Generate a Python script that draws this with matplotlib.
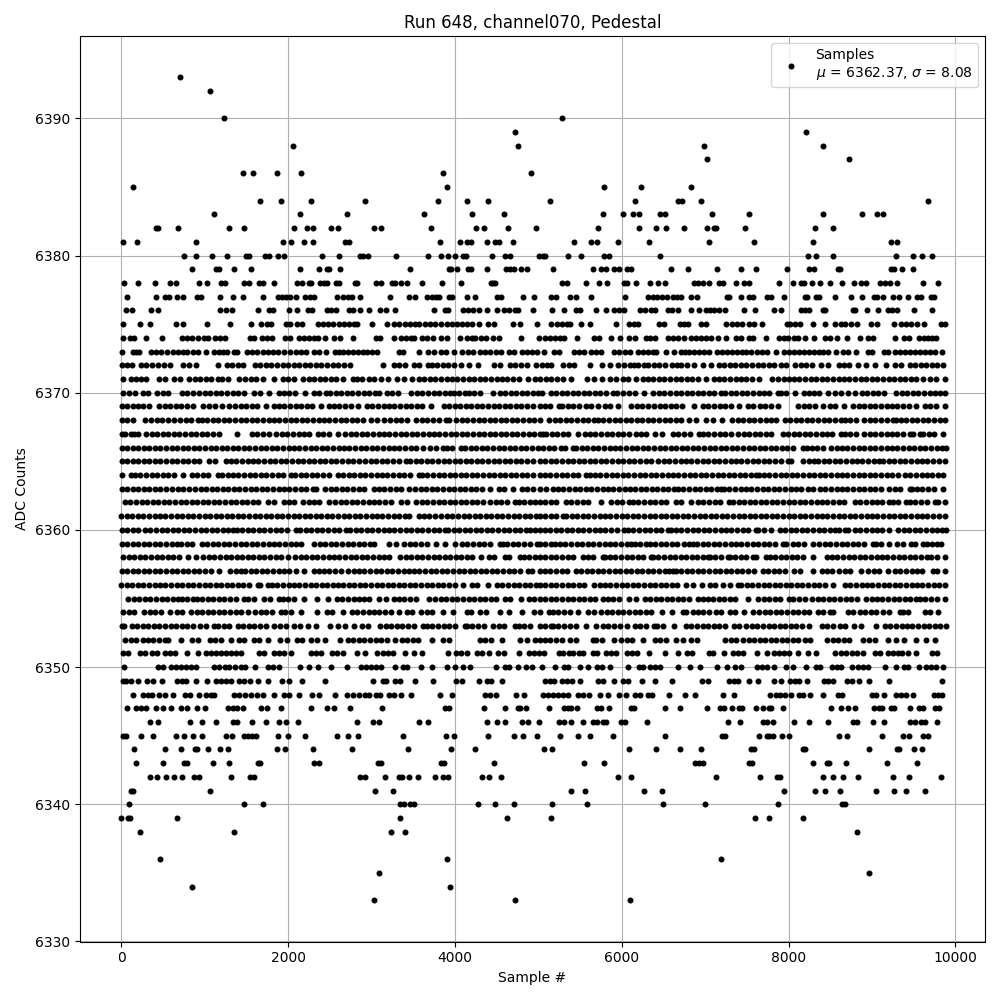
# Pedestal samples of one channel, values read per ADC level

import matplotlib
matplotlib.use('Agg')
import matplotlib.pyplot as plt

# sample numbers seen at each ADC level
x_6393 = [704]
x_6392 = [1064]
x_6390 = [1232, 5281]
x_6389 = [4724, 8209]
x_6388 = [2060, 4760, 6985, 8413]
x_6387 = [7021, 8725]
x_6386 = [1460, 1580, 1868, 2156, 3860, 4916]
x_6385 = [140, 3908, 5785, 6229, 6829]
x_6384 = [1664, 1916, 2276, 2924, 3800, 4148, 4400, 5137, 6157, 6673, 6721, 6949, 9673]
x_6383 = [1112, 2144, 2708, 3632, 4208, 4592, 5773, 6013, 6133, 6205, 6457, 6517, 7081, 7525, 8413, 8881, 9061, 9133]
x_6382 = [415, 440, 680, 1292, 1472, 2072, 2228, 2300, 2516, 2600, 3032, 3116, 3716, 4256, 4352, 4640, 4976, 5713, 6205, 6409, 6529, 6745, 7021, 7105, 7129, 7477, 8317, 8533]
x_6381 = [20, 188, 896, 1940, 2036, 2192, 2300, 2684, 2732, 3824, 4064, 4148, 4188, 4388, 4484, 4524, 4700, 5425, 5637, 5701, 5953, 6325, 7045, 7585, 8293, 9229, 9301]
x_6380 = [752, 896, 1088, 1268, 1496, 1532, 1724, 1772, 1880, 1952, 2408, 2612, 2864, 2900, 2960, 3296, 3680, 3836, 3920, 4004, 4100, 4136, 4448, 4604, 4664, 5012, 5053, 5085, 5353, 5509, 5785, 5845, 6457, 8233, 8329, 8533, 9289, 9493, 9601, 9721]
x_6379 = [848, 1136, 1172, 1352, 1556, 2144, 2372, 2468, 2492, 2624, 3464, 3932, 3956, 4028, 4160, 4196, 4388, 4616, 4664, 4712, 4796, 4868, 5173, 5653, 5749, 5809, 5905, 5965, 6061, 6109, 6589, 6793, 7141, 7429, 7609, 7981, 8245, 8305, 8593, 8613, 9229, 9265, 9361, 9493]
x_6378 = [32, 200, 404, 584, 656, 932, 1028, 1196, 1244, 1472, 1532, 1652, 1700, 1832, 2108, 2168, 2252, 2276, 2384, 2432, 2468, 2576, 2612, 2804, 2828, 3056, 3116, 3248, 3284, 3356, 3428, 3608, 3848, 4076, 4436, 4460, 4484, 5281, 5341, 5569, 5725, 5821, 6025, 6061, 6169, 6337, 6433, 6517, 6865, 6913, 6973, 7045, 7165, 7213, 7369, 7465, 7525, 7885, 8053, 8149, 8185, 8281, 8377, 8497, 8641, 8785, 8869, 8929, 9097, 9157, 9217, 9301, 9613, 9793]
x_6377 = [68, 416, 524, 572, 668, 740, 908, 956, 1184, 1340, 1460, 1700, 1880, 1928, 1976, 2024, 2096, 2204, 2264, 2312, 2588, 2660, 2720, 2768, 2864, 3224, 3452, 3524, 3668, 3728, 3776, 3812, 3932, 3968, 4148, 4244, 4508, 4556, 4820, 4952, 5149, 5209, 5377, 5449, 5629, 6037, 6313, 6373, 6421, 6481, 6541, 6613, 6661, 6709, 6829, 6901, 7261, 7285, 7429, 7525, 7573, 7741, 7789, 7945, 8197, 8221, 8329, 8365, 8557, 8749, 8881, 9025, 9061, 9133, 9253, 9325, 9429, 9541, 9589, 9709, 9745]
x_6376 = [56, 128, 356, 440, 1184, 1256, 1328, 1640, 1772, 1820, 2012, 2108, 2240, 2288, 2468, 2516, 2576, 2732, 2780, 2864, 2972, 3104, 3176, 3284, 3752, 3884, 3920, 4100, 4160, 4220, 4292, 4388, 4508, 4592, 4652, 4724, 4760, 4940, 5161, 5305, 5449, 5497, 5689, 5809, 5905, 5965, 6025, 6217, 6277, 6349, 6397, 6553, 6601, 6673, 6829, 6925, 7009, 7057, 7105, 7165, 7237, 7465, 7597, 7825, 7909, 8149, 8197, 8245, 8413, 8437, 8773, 8797, 8941, 9073, 9193, 9241, 9301, 9505, 9721]
x_6375 = [20, 224, 344, 656, 740, 1028, 1304, 1556, 1676, 1748, 1796, 1976, 2024, 2108, 2168, 2360, 2420, 2480, 2540, 2612, 2672, 2732, 2792, 2828, 3008, 3188, 3272, 3332, 3404, 3464, 3524, 3572, 3644, 3704, 3764, 3836, 3908, 3968, 4028, 4088, 4148, 4208, 4292, 4400, 4472, 4700, 4784, 4988, 5149, 5221, 5281, 5341, 5377, 5509, 5625, 5929, 6085, 6145, 6193, 6445, 6505, 6697, 6745, 6793, 6949, 7009, 7249, 7321, 7381, 7441, 7525, 7585, 7681, 7981, 8017, 8077, 8137, 8293, 8437, 8557, 8629, 8677, 8749, 8821, 8989, 9061, 9265, 9349, 9409, 9469, 9541, 9625, 9829, 9877]
x_6374 = [20, 104, 152, 296, 488, 728, 788, 848, 920, 992, 1040, 1124, 1184, 1244, 1544, 1592, 1688, 1748, 1808, 1964, 2024, 2132, 2192, 2252, 2312, 2360, 2444, 2552, 2624, 2780, 3056, 3104, 3272, 3356, 3416, 3476, 3512, 3608, 3668, 3740, 3836, 3908, 4064, 4148, 4208, 4244, 4316, 4376, 4460, 4532, 4796, 5012, 5085, 5145, 5205, 5265, 5313, 5469, 5673, 5725, 5869, 5977, 6085, 6157, 6289, 6337, 6397, 6553, 6613, 6673, 6745, 6829, 6889, 6949, 7009, 7069, 7153, 7249, 7369, 7429, 7525, 7573, 7729, 7885, 7945, 7993, 8065, 8113, 8197, 8305, 8437, 8497, 8581, 8701, 8857, 8953, 9013, 9277, 9385, 9445, 9565, 9625, 9673, 9721, 9769]
x_6373 = [8, 140, 176, 212, 356, 416, 476, 548, 620, 680, 740, 788, 860, 920, 1016, 1112, 1172, 1220, 1268, 1352, 1388, 1508, 1568, 1628, 1700, 1760, 1820, 1880, 1952, 2024, 2096, 2156, 2216, 2312, 2372, 2460, 2564, 2612, 2660, 2720, 2780, 2840, 2900, 2948, 3008, 3068, 3332, 3380, 3572, 3680, 3752, 3836, 3896, 3992, 4088, 4160, 4220, 4304, 4364, 4424, 4496, 4556, 4652, 4712, 4808, 4868, 4928, 4988, 5073, 5193, 5253, 5433, 5493, 5553, 5637, 5697, 5757, 5905, 5965, 6037, 6097, 6193, 6253, 6313, 6373, 6409, 6529, 6625, 6709, 6757, 6805, 6865, 6925, 6985, 7045, 7141, 7201, 7261, 7321, 7381, 7441, 7489, 7549, 7621, 7681, 7741, 7849, 7945, 8005, 8065, 8125, 8185, 8245, 8305, 8365, 8413, 8473, 8569, 8653, 8713, 8809, 8953, 9001, 9145, 9193, 9277, 9337, 9397, 9457, 9517, 9577, 9637, 9697, 9757, 9841]
x_6372 = [8, 70, 130, 232, 300, 372, 440, 510, 580, 740, 810, 890, 1160, 1268, 1330, 1395, 1455, 1600, 1668, 1733, 1800, 1870, 1935, 2000, 2070, 2135, 2200, 2268, 2335, 2400, 2470, 2535, 2600, 2670, 2740, 3140, 3268, 3335, 3400, 3515, 3565, 3675, 3720, 3788, 3855, 3920, 3990, 4075, 4165, 4275, 4468, 4535, 4655, 4720, 4790, 4860, 4975, 5040, 5100, 5150, 5300, 5365, 5430, 5625, 5761, 5857, 5960, 6030, 6095, 6150, 6200, 6270, 6320, 6385, 6450, 6513, 6600, 6660, 6710, 6780, 6870, 6973, 7073, 7160, 7230, 7295, 7360, 7430, 7495, 7560, 7630, 7695, 7760, 7830, 7910, 7973, 8080, 8145, 8210, 8280, 8390, 8473, 8600, 8665, 8730, 8830, 8933, 9033, 9173, 9280, 9345, 9450, 9520, 9585, 9650, 9720, 9785, 9850]
x_6371 = [25, 115, 175, 240, 300, 455, 525, 635, 700, 815, 880, 945, 1010, 1080, 1155, 1205, 1278, 1415, 1480, 1550, 1615, 1695, 1830, 1935, 2000, 2070, 2175, 2245, 2310, 2380, 2445, 2515, 2575, 2655, 2775, 2825, 2890, 2975, 3025, 3115, 3200, 3305, 3395, 3480, 3565, 3630, 3700, 3765, 3830, 3900, 3965, 4030, 4100, 4165, 4230, 4300, 4365, 4430, 4500, 4565, 4630, 4700, 4765, 4875, 4960, 5020, 5090, 5155, 5225, 5290, 5390, 5580, 5670, 5760, 5860, 5930, 6010, 6080, 6170, 6255, 6310, 6380, 6445, 6510, 6580, 6645, 6710, 6780, 6845, 6910, 7010, 7100, 7165, 7230, 7300, 7365, 7430, 7490, 7560, 7650, 7805, 7870, 7940, 8005, 8070, 8130, 8200, 8265, 8330, 8400, 8465, 8530, 8600, 8665, 8730, 8800, 8865, 8930, 9000, 9065, 9130, 9200, 9265, 9330, 9400, 9465, 9530, 9610, 9700, 9765, 9870]
x_6370 = [25, 90, 160, 255, 325, 425, 505, 555, 725, 785, 865, 930, 1000, 1065, 1130, 1200, 1265, 1335, 1405, 1470, 1595, 1665, 1775, 1885, 1950, 2015, 2085, 2205, 2305, 2370, 2455, 2505, 2570, 2640, 2705, 2770, 2840, 2905, 2970, 3040, 3095, 3185, 3250, 3315, 3475, 3545, 3610, 3675, 3745, 3810, 3875, 3935, 3985, 4050, 4115, 4165, 4230, 4295, 4455, 4535, 4600, 4670, 4735, 4800, 4870, 4935, 5000, 5045, 5155, 5210, 5280, 5345, 5410, 5480, 5545, 5610, 5680, 5745, 5810, 5890, 5940, 6020, 6090, 6160, 6270, 6380, 6445, 6510, 6580, 6645, 6710, 6780, 6845, 6910, 6980, 7045, 7110, 7190, 7240, 7305, 7370, 7440, 7505, 7570, 7640, 7705, 7770, 7870, 7913, 7973, 8075, 8190, 8240, 8305, 8370, 8470, 8560, 8625, 8710, 8793, 8880, 8945, 9010, 9075, 9150, 9290, 9355, 9420, 9490, 9555, 9620, 9690, 9755, 9820, 9870]
x_6369 = [5, 70, 135, 200, 265, 335, 455, 520, 585, 655, 720, 790, 855, 985, 1055, 1120, 1205, 1295, 1365, 1430, 1495, 1565, 1630, 1735, 1825, 1890, 1955, 2025, 2090, 2155, 2225, 2290, 2395, 2485, 2550, 2615, 2685, 2750, 2835, 2945, 3010, 3075, 3145, 3210, 3275, 3345, 3410, 3475, 3545, 3610, 3715, 3865, 3930, 3995, 4065, 4130, 4195, 4265, 4330, 4395, 4465, 4530, 4595, 4665, 4730, 4795, 4865, 4930, 5015, 5080, 5145, 5250, 5285, 5355, 5420, 5485, 5570, 5635, 5710, 5795, 5860, 5950, 6115, 6180, 6245, 6315, 6390, 6455, 6520, 6590, 6655, 6720, 6870, 6975, 7040, 7105, 7175, 7240, 7305, 7410, 7515, 7570, 7655, 7720, 7790, 7870, 8115, 8180, 8245, 8315, 8410, 8495, 8560, 8670, 8775, 8840, 8905, 8975, 9040, 9105, 9175, 9240, 9305, 9375, 9440, 9530, 9635, 9700, 9765, 9870]
x_6368 = [5, 70, 138, 285, 355, 425, 490, 555, 635, 705, 770, 835, 915, 965, 1030, 1095, 1165, 1230, 1295, 1365, 1430, 1495, 1565, 1630, 1695, 1765, 1830, 1895, 1965, 2030, 2095, 2165, 2230, 2295, 2365, 2430, 2495, 2565, 2630, 2695, 2765, 2830, 2895, 2995, 3065, 3155, 3225, 3290, 3355, 3425, 3535, 3605, 3670, 3735, 3805, 3895, 3925, 4015, 4085, 4150, 4215, 4285, 4350, 4415, 4485, 4550, 4615, 4685, 4750, 4815, 4885, 4950, 5015, 5130, 5195, 5260, 5330, 5395, 5460, 5530, 5595, 5670, 5715, 5780, 5845, 5915, 5980, 6045, 6115, 6180, 6245, 6315, 6380, 6445, 6515, 6580, 6645, 6715, 6810, 6885, 7010, 7093, 7205, 7325, 7390, 7455, 7525, 7590, 7655, 7725, 7790, 7850, 7955, 8020, 8085, 8155, 8220, 8285, 8355, 8420, 8485, 8555, 8630, 8675, 8740, 8805, 8910, 8975, 9040, 9110, 9175, 9250, 9285, 9345, 9410, 9475, 9545, 9610, 9675, 9745, 9810, 9870]
x_6367 = [5, 48, 122, 158, 205, 295, 365, 430, 498, 565, 630, 695, 765, 830, 895, 965, 1030, 1095, 1175, 1390, 1565, 1630, 1695, 1765, 1855, 1925, 1990, 2055, 2125, 2190, 2255, 2355, 2420, 2485, 2595, 2685, 2750, 2815, 2885, 2950, 3015, 3085, 3150, 3215, 3285, 3350, 3415, 3485, 3550, 3615, 3685, 3750, 3815, 3885, 3950, 4015, 4085, 4150, 4215, 4285, 4350, 4415, 4485, 4550, 4615, 4685, 4750, 4815, 4885, 4950, 5015, 5050, 5095, 5160, 5225, 5295, 5360, 5470, 5555, 5620, 5685, 5755, 5820, 5885, 5955, 6020, 6090, 6175, 6230, 6293, 6393, 6481, 6615, 6680, 6745, 6815, 6930, 6975, 7040, 7105, 7175, 7240, 7310, 7395, 7460, 7525, 7595, 7660, 7725, 7795, 7930, 7995, 8060, 8125, 8195, 8260, 8325, 8395, 8460, 8525, 8630, 8675, 8740, 8805, 8910, 8975, 9040, 9105, 9175, 9240, 9305, 9375, 9450, 9495, 9570, 9615, 9680, 9745, 9850]
x_6366 = [5, 70, 135, 205, 270, 335, 405, 470, 535, 605, 670, 735, 805, 870, 935, 1005, 1070, 1135, 1205, 1270, 1335, 1405, 1470, 1535, 1605, 1670, 1735, 1805, 1870, 1935, 2005, 2070, 2135, 2205, 2270, 2335, 2405, 2470, 2535, 2605, 2670, 2735, 2805, 2870, 2935, 3005, 3070, 3135, 3205, 3270, 3335, 3405, 3470, 3535, 3615, 3705, 3770, 3855, 3900, 3965, 4075, 4125, 4190, 4255, 4325, 4390, 4455, 4525, 4590, 4655, 4725, 4790, 4855, 4925, 4990, 5055, 5125, 5190, 5270, 5315, 5410, 5455, 5520, 5585, 5655, 5720, 5785, 5855, 5920, 5985, 6055, 6120, 6185, 6255, 6320, 6385, 6455, 6520, 6585, 6655, 6720, 6785, 6855, 6920, 6985, 7055, 7120, 7185, 7255, 7320, 7385, 7455, 7520, 7585, 7655, 7720, 7785, 7855, 7920, 7985, 8055, 8170, 8215, 8280, 8345, 8415, 8510, 8575, 8640, 8705, 8775, 8840, 8905, 8975, 9040, 9105, 9175, 9240, 9305, 9375, 9440, 9505, 9575, 9640, 9705, 9775, 9840, 9885]
x_6365 = [5, 70, 135, 205, 270, 335, 405, 470, 535, 605, 670, 735, 805, 870, 935, 1055, 1125, 1255, 1315, 1380, 1445, 1515, 1580, 1645, 1715, 1780, 1845, 1915, 1980, 2045, 2115, 2180, 2245, 2315, 2380, 2445, 2515, 2580, 2645, 2715, 2780, 2855, 2925, 2990, 3055, 3125, 3190, 3255, 3325, 3415, 3465, 3530, 3595, 3665, 3730, 3795, 3865, 3930, 3995, 4065, 4130, 4195, 4265, 4330, 4395, 4465, 4530, 4595, 4665, 4730, 4795, 4865, 4930, 5015, 5085, 5150, 5215, 5285, 5350, 5415, 5485, 5550, 5615, 5685, 5750, 5815, 5885, 5950, 6015, 6085, 6150, 6215, 6285, 6350, 6435, 6505, 6570, 6635, 6705, 6770, 6835, 6905, 6970, 7035, 7105, 7170, 7235, 7305, 7370, 7435, 7505, 7570, 7635, 7705, 7770, 7835, 7905, 7990, 8033, 8175, 8240, 8310, 8355, 8420, 8485, 8555, 8620, 8685, 8755, 8820, 8885, 8955, 9020, 9090, 9135, 9200, 9265, 9335, 9400, 9465, 9535, 9600, 9665, 9735, 9800, 9870]
x_6364 = [5, 118, 165, 230, 295, 365, 430, 495, 565, 630, 735, 845, 910, 975, 1045, 1155, 1205, 1275, 1340, 1405, 1475, 1540, 1605, 1675, 1740, 1805, 1875, 1940, 2035, 2085, 2150, 2215, 2285, 2350, 2415, 2485, 2595, 2660, 2725, 2790, 2860, 2925, 2990, 3060, 3125, 3190, 3260, 3325, 3390, 3460, 3575, 3605, 3670, 3735, 3805, 3870, 3935, 4005, 4070, 4135, 4205, 4270, 4335, 4405, 4470, 4535, 4605, 4670, 4735, 4805, 4870, 4935, 5015, 5080, 5145, 5215, 5280, 5345, 5415, 5480, 5570, 5615, 5680, 5745, 5815, 5880, 5945, 6015, 6080, 6145, 6215, 6280, 6350, 6415, 6480, 6550, 6615, 6680, 6750, 6815, 6880, 6950, 7015, 7080, 7150, 7215, 7280, 7350, 7415, 7480, 7550, 7610, 7640, 7705, 7770, 7840, 7910, 7975, 8040, 8105, 8175, 8240, 8305, 8375, 8440, 8505, 8575, 8640, 8705, 8775, 8840, 8905, 8975, 9040, 9105, 9175, 9240, 9310, 9395, 9460, 9525, 9595, 9660, 9725, 9795, 9850]
x_6363 = [5, 70, 135, 205, 270, 335, 405, 470, 535, 605, 675, 745, 815, 885, 950, 1015, 1085, 1150, 1215, 1285, 1350, 1415, 1485, 1550, 1615, 1685, 1750, 1815, 1885, 1950, 2015, 2085, 2150, 2215, 2295, 2340, 2445, 2510, 2575, 2645, 2710, 2775, 2845, 2915, 3025, 3090, 3155, 3225, 3290, 3355, 3455, 3525, 3590, 3655, 3725, 3790, 3855, 3925, 3990, 4055, 4125, 4190, 4255, 4325, 4415, 4525, 4590, 4695, 4805, 4870, 4935, 5015, 5090, 5170, 5235, 5300, 5370, 5435, 5500, 5570, 5635, 5700, 5770, 5835, 5900, 5970, 6033, 6095, 6160, 6225, 6295, 6360, 6425, 6495, 6560, 6630, 6675, 6740, 6805, 6875, 6940, 7005, 7075, 7140, 7190, 7225, 7290, 7355, 7425, 7490, 7555, 7625, 7690, 7755, 7825, 7890, 7955, 8025, 8090, 8155, 8230, 8293, 8375, 8440, 8505, 8575, 8640, 8705, 8775, 8840, 8905, 8975, 9040, 9105, 9210, 9275, 9340, 9450, 9475, 9540, 9605, 9675, 9740, 9850]
x_6362 = [45, 110, 175, 245, 310, 375, 445, 510, 575, 645, 710, 775, 845, 910, 975, 1045, 1110, 1175, 1245, 1310, 1375, 1445, 1510, 1575, 1645, 1755, 1835, 1945, 2010, 2075, 2175, 2255, 2305, 2370, 2495, 2565, 2630, 2695, 2765, 2830, 2895, 2965, 3030, 3095, 3165, 3230, 3355, 3425, 3535, 3605, 3670, 3735, 3805, 3870, 3935, 4005, 4070, 4135, 4205, 4270, 4335, 4425, 4490, 4555, 4625, 4715, 4765, 4830, 4895, 4965, 5015, 5085, 5150, 5215, 5330, 5395, 5460, 5530, 5595, 5750, 5875, 5940, 6005, 6090, 6135, 6200, 6265, 6335, 6400, 6465, 6535, 6650, 6713, 6833, 6915, 6980, 7045, 7115, 7180, 7290, 7335, 7400, 7465, 7535, 7600, 7665, 7735, 7800, 7865, 7935, 8000, 8065, 8135, 8200, 8265, 8335, 8400, 8465, 8535, 8600, 8670, 8795, 8860, 8925, 8995, 9060, 9125, 9210, 9250, 9315, 9410, 9455, 9520, 9585, 9655, 9750, 9795, 9870]
x_6361 = [0, 65, 130, 200, 265, 330, 400, 465, 530, 600, 665, 730, 800, 865, 930, 1000, 1065, 1130, 1200, 1265, 1330, 1400, 1465, 1530, 1600, 1665, 1730, 1800, 1865, 1930, 2000, 2065, 2130, 2200, 2265, 2330, 2400, 2465, 2530, 2600, 2665, 2730, 2800, 2865, 2930, 3000, 3065, 3130, 3200, 3265, 3330, 3400, 3455, 3565, 3630, 3695, 3765, 3835, 3905, 3970, 4035, 4105, 4170, 4235, 4305, 4370, 4435, 4505, 4570, 4635, 4705, 4770, 4835, 4905, 4970, 5015, 5085, 5150, 5215, 5290, 5335, 5400, 5465, 5535, 5600, 5665, 5735, 5800, 5865, 5935, 6000, 6065, 6135, 6200, 6265, 6335, 6400, 6465, 6535, 6600, 6665, 6735, 6800, 6865, 6935, 7000, 7065, 7135, 7200, 7265, 7335, 7400, 7465, 7535, 7600, 7665, 7735, 7800, 7865, 7935, 8000, 8065, 8135, 8200, 8265, 8335, 8400, 8465, 8535, 8600, 8665, 8735, 8800, 8865, 8935, 9000, 9065, 9135, 9200, 9265, 9335, 9400, 9465, 9535, 9600, 9665, 9735, 9800, 9870]
x_6360 = [5, 70, 135, 195, 285, 350, 415, 485, 550, 615, 685, 750, 815, 885, 950, 1015, 1085, 1150, 1215, 1285, 1335, 1385, 1450, 1515, 1585, 1650, 1715, 1785, 1850, 1915, 1985, 2095, 2145, 2210, 2275, 2345, 2410, 2475, 2545, 2610, 2695, 2745, 2810, 2875, 2945, 3010, 3075, 3145, 3210, 3275, 3345, 3410, 3475, 3545, 3610, 3675, 3745, 3815, 3885, 3920, 3985, 4050, 4115, 4185, 4250, 4315, 4385, 4450, 4515, 4585, 4650, 4715, 4785, 4850, 4895, 4965, 5015, 5080, 5145, 5210, 5275, 5340, 5405, 5475, 5540, 5605, 5675, 5740, 5805, 5875, 5940, 6030, 6075, 6140, 6205, 6275, 6340, 6405, 6475, 6550, 6585, 6650, 6715, 6785, 6850, 6915, 6985, 7050, 7115, 7185, 7250, 7315, 7385, 7450, 7515, 7610, 7635, 7700, 7790, 7895, 7960, 8025, 8095, 8160, 8225, 8295, 8360, 8425, 8495, 8560, 8610, 8675, 8710, 8795, 8860, 8925, 8995, 9060, 9125, 9210, 9315, 9380, 9445, 9515, 9580, 9645, 9715, 9780, 9845, 9890]
x_6359 = [5, 70, 135, 205, 270, 335, 405, 470, 535, 605, 670, 715, 785, 845, 965, 1030, 1095, 1165, 1230, 1295, 1365, 1430, 1495, 1565, 1630, 1695, 1765, 1830, 1895, 1965, 2030, 2095, 2155, 2315, 2380, 2445, 2515, 2580, 2645, 2715, 2780, 2845, 2915, 2980, 3035, 3205, 3295, 3395, 3460, 3525, 3595, 3660, 3775, 3880, 4000, 4085, 4150, 4215, 4285, 4350, 4415, 4535, 4580, 4625, 4695, 4760, 4825, 4895, 4980, 5015, 5080, 5150, 5195, 5260, 5325, 5395, 5460, 5525, 5595, 5660, 5725, 5795, 5860, 5925, 5995, 6060, 6110, 6155, 6220, 6290, 6335, 6400, 6465, 6535, 6600, 6665, 6750, 6801, 6853, 6905, 6970, 7035, 7105, 7170, 7235, 7305, 7370, 7435, 7505, 7570, 7635, 7705, 7770, 7835, 7930, 7975, 8050, 8115, 8180, 8290, 8370, 8435, 8500, 8570, 8635, 8700, 8770, 8835, 8900, 9010, 9045, 9110, 9201, 9305, 9370, 9470, 9515, 9610, 9655, 9720, 9785, 9830]
x_6358 = [25, 90, 155, 225, 290, 355, 425, 490, 555, 625, 690, 795, 890, 985, 1050, 1115, 1185, 1250, 1315, 1385, 1450, 1515, 1585, 1650, 1715, 1785, 1850, 1915, 1995, 2085, 2150, 2215, 2285, 2350, 2415, 2485, 2550, 2615, 2685, 2750, 2815, 2885, 2950, 3015, 3085, 3150, 3215, 3345, 3410, 3475, 3545, 3610, 3675, 3745, 3810, 3875, 3945, 4010, 4075, 4145, 4210, 4315, 4405, 4470, 4595, 4645, 4775, 4825, 4890, 4955, 5015, 5085, 5150, 5215, 5285, 5350, 5415, 5530, 5595, 5660, 5770, 5795, 5860, 5925, 5995, 6060, 6125, 6195, 6260, 6350, 6375, 6440, 6505, 6575, 6640, 6705, 6775, 6840, 6905, 6975, 7030, 7055, 7120, 7185, 7270, 7295, 7360, 7425, 7495, 7570, 7615, 7730, 7775, 7840, 7905, 7975, 8040, 8105, 8175, 8290, 8455, 8520, 8585, 8655, 8720, 8785, 8855, 8920, 8985, 9055, 9120, 9185, 9255, 9320, 9385, 9455, 9520, 9585, 9655, 9710, 9775, 9870]
x_6357 = [5, 70, 135, 205, 270, 335, 405, 470, 535, 605, 670, 735, 805, 870, 935, 1005, 1070, 1175, 1305, 1370, 1435, 1485, 1550, 1615, 1685, 1750, 1815, 1885, 1950, 2015, 2095, 2195, 2315, 2365, 2430, 2495, 2565, 2630, 2715, 2785, 2850, 2915, 2985, 3050, 3115, 3185, 3250, 3315, 3395, 3445, 3510, 3575, 3645, 3710, 3775, 3845, 3910, 3975, 4045, 4110, 4175, 4245, 4310, 4375, 4445, 4510, 4575, 4645, 4710, 4775, 4875, 4925, 5015, 5080, 5145, 5215, 5280, 5345, 5450, 5515, 5580, 5645, 5715, 5780, 5845, 5915, 5980, 6045, 6115, 6180, 6245, 6315, 6380, 6445, 6515, 6570, 6613, 6650, 6715, 6780, 6845, 6915, 6980, 7045, 7115, 7180, 7245, 7315, 7380, 7445, 7515, 7580, 7690, 7755, 7820, 7890, 7955, 8070, 8135, 8290, 8395, 8460, 8525, 8610, 8675, 8740, 8870, 8955, 9020, 9085, 9190, 9275, 9340, 9405, 9475, 9540, 9605, 9730, 9775, 9870]
x_6356 = [0, 65, 130, 200, 265, 330, 400, 465, 530, 600, 665, 730, 800, 865, 930, 1000, 1065, 1130, 1200, 1265, 1330, 1400, 1465, 1530, 1635, 1665, 1755, 1805, 1870, 1935, 2005, 2070, 2135, 2205, 2270, 2335, 2405, 2470, 2535, 2595, 2660, 2725, 2795, 2860, 2925, 2995, 3060, 3125, 3195, 3260, 3325, 3395, 3460, 3525, 3595, 3660, 3725, 3795, 3860, 3925, 3995, 4095, 4205, 4270, 4395, 4505, 4570, 4635, 4705, 4770, 4835, 4905, 4970, 5015, 5085, 5150, 5215, 5285, 5350, 5415, 5485, 5550, 5670, 5735, 5800, 5865, 5935, 6000, 6065, 6135, 6200, 6265, 6335, 6400, 6465, 6535, 6600, 6665, 6770, 6853, 6961, 7055, 7120, 7210, 7295, 7390, 7435, 7500, 7565, 7635, 7700, 7765, 7835, 7900, 7965, 8035, 8100, 8165, 8235, 8300, 8365, 8435, 8530, 8675, 8740, 8805, 8875, 8940, 9005, 9075, 9140, 9205, 9275, 9340, 9405, 9475, 9540, 9605, 9675, 9740, 9805, 9880]
x_6355 = [85, 150, 215, 285, 350, 415, 485, 550, 615, 675, 725, 790, 855, 905, 970, 1035, 1105, 1170, 1235, 1305, 1370, 1475, 1525, 1590, 1715, 1785, 1895, 1935, 2000, 2065, 2195, 2345, 2475, 2585, 2650, 2715, 2785, 2855, 2905, 2970, 3095, 3170, 3265, 3330, 3395, 3465, 3530, 3695, 3765, 3830, 3895, 3965, 4030, 4095, 4165, 4230, 4295, 4365, 4430, 4495, 4595, 4665, 4795, 4885, 4950, 5015, 5085, 5150, 5215, 5285, 5350, 5415, 5485, 5550, 5615, 5685, 5770, 5835, 5900, 5970, 6090, 6173, 6275, 6340, 6405, 6475, 6540, 6605, 6675, 6740, 6805, 6910, 6975, 7030, 7095, 7160, 7230, 7295, 7360, 7510, 7635, 7700, 7765, 7835, 7900, 8010, 8055, 8130, 8201, 8285, 8350, 8415, 8485, 8550, 8615, 8685, 8750, 8815, 8930, 8995, 9060, 9125, 9195, 9260, 9325, 9395, 9460, 9530, 9575, 9640, 9705, 9775, 9870]
x_6354 = [25, 90, 155, 275, 345, 410, 475, 585, 665, 730, 835, 905, 970, 1035, 1105, 1170, 1235, 1305, 1370, 1435, 1515, 1605, 1670, 1735, 1805, 1915, 1965, 2030, 2155, 2350, 2465, 2530, 2655, 2765, 2830, 2895, 2965, 3030, 3095, 3165, 3230, 3335, 3425, 3490, 3595, 3665, 3730, 3855, 3980, 4145, 4195, 4305, 4370, 4535, 4650, 4800, 4945, 5015, 5130, 5175, 5240, 5305, 5375, 5470, 5595, 5670, 5755, 5820, 5885, 5955, 6020, 6085, 6155, 6220, 6285, 6350, 6481, 6605, 6730, 6775, 6850, 6915, 6980, 7050, 7130, 7193, 7295, 7360, 7470, 7575, 7650, 7715, 7780, 7850, 7915, 7980, 8050, 8115, 8180, 8250, 8350, 8413, 8495, 8530, 8715, 8770, 8855, 8920, 8985, 9050, 9135, 9200, 9330, 9375, 9430, 9635, 9700, 9790]
x_6353 = [5, 38, 125, 190, 255, 325, 390, 455, 525, 590, 655, 725, 790, 855, 945, 1010, 1115, 1165, 1230, 1295, 1395, 1465, 1530, 1595, 1665, 1730, 1835, 1905, 1970, 2075, 2140, 2240, 2340, 2505, 2595, 2685, 2795, 2885, 2955, 3105, 3170, 3235, 3305, 3370, 3435, 3505, 3615, 3665, 3730, 3795, 3865, 3930, 3995, 4115, 4145, 4210, 4275, 4345, 4455, 4525, 4590, 4715, 4765, 4830, 4895, 5015, 5085, 5150, 5175, 5240, 5305, 5375, 5450, 5573, 5693, 5775, 5840, 5905, 5975, 6060, 6155, 6220, 6285, 6390, 6425, 6490, 6630, 6770, 6835, 6900, 6970, 7035, 7100, 7170, 7235, 7350, 7405, 7495, 7560, 7625, 7695, 7760, 7825, 7895, 7960, 8025, 8095, 8160, 8250, 8395, 8460, 8530, 8615, 8680, 8790, 8873, 9053, 9155, 9220, 9285, 9355, 9420, 9485, 9555, 9620, 9685, 9755, 9820, 9890]
x_6352 = [45, 115, 180, 260, 325, 385, 450, 520, 560, 710, 850, 920, 1060, 1120, 1190, 1320, 1410, 1475, 1590, 1650, 1760, 1900, 1990, 2110, 2170, 2270, 2350, 2440, 2620, 2715, 2780, 2850, 2915, 2985, 3050, 3115, 3190, 3280, 3360, 3425, 3495, 3560, 3720, 3860, 3930, 4300, 4365, 4430, 4560, 4780, 4860, 4960, 5015, 5085, 5135, 5215, 5285, 5380, 5450, 5650, 5695, 5760, 5905, 5995, 6060, 6125, 6260, 6393, 6460, 6530, 6650, 6735, 6830, 6905, 7240, 7305, 7373, 7453, 7520, 7585, 7655, 7720, 7785, 7855, 7920, 7985, 8050, 8115, 8193, 8253, 8455, 8530, 8595, 8665, 8730, 8895, 8965, 9033, 9193, 9293, 9385, 9533, 9653, 9760]
x_6351 = [20, 80, 224, 284, 368, 428, 524, 584, 644, 788, 920, 1016, 1076, 1136, 1196, 1256, 1316, 1376, 1436, 1652, 1712, 1832, 1892, 1952, 2040, 2276, 2336, 2396, 2528, 2588, 2660, 2828, 2924, 3068, 3140, 3200, 3260, 3404, 3512, 3608, 3920, 4016, 4076, 4148, 4268, 4328, 4412, 4520, 4592, 4764, 4892, 4952, 5012, 5065, 5245, 5293, 5365, 5413, 5485, 5533, 5653, 5701, 5809, 5869, 5929, 6061, 6121, 6181, 6325, 6517, 6673, 6781, 6841, 7045, 7093, 7225, 7333, 7393, 7453, 7621, 7741, 7825, 7885, 7945, 8005, 8113, 8233, 8329, 8557, 8629, 8689, 8761, 8821, 8893, 9037, 9097, 9193, 9253, 9313, 9361, 9433, 9529, 9721, 9781]
x_6350 = [32, 440, 500, 596, 656, 716, 776, 836, 896, 1112, 1172, 1244, 1292, 1364, 1436, 1484, 1604, 1760, 1820, 1892, 2144, 2252, 2360, 2516, 2708, 2876, 2936, 2996, 3056, 3116, 3284, 3380, 3428, 3596, 3728, 3908, 4004, 4100, 4184, 4496, 4604, 4652, 4760, 4856, 4928, 5041, 5197, 5305, 5353, 5497, 5593, 5701, 5761, 5857, 6073, 6205, 6253, 6337, 6397, 6457, 6673, 6817, 6937, 7141, 7261, 7357, 7429, 7621, 7681, 7741, 7825, 7969, 8053, 8209, 8329, 8377, 8521, 8581, 8629, 8761, 8833, 8893, 8953, 9157, 9289, 9385, 9433, 9565, 9649, 9709, 9769, 9853]
x_6349 = [20, 56, 116, 200, 308, 380, 488, 668, 728, 776, 896, 1028, 1136, 1196, 1256, 1316, 1412, 1472, 1544, 1640, 1760, 1928, 2012, 2168, 2444, 3020, 3140, 3176, 3284, 3344, 3524, 3740, 4016, 4088, 4292, 4388, 4436, 4568, 5077, 5137, 5185, 5281, 5341, 5401, 5497, 5713, 5773, 5905, 6013, 6073, 6241, 6397, 6601, 6961, 7033, 7285, 7345, 7393, 7525, 7633, 7825, 7909, 8017, 8077, 8125, 8221, 8425, 8473, 8533, 8701, 8761, 8845, 8965, 9209, 9841]
x_6348 = [140, 260, 320, 368, 452, 524, 620, 764, 824, 932, 1016, 1076, 1112, 1352, 1412, 1484, 1556, 1628, 1700, 1832, 1952, 2012, 2132, 2288, 2372, 2564, 2708, 2780, 2852, 2924, 2972, 3056, 3104, 3212, 3272, 3356, 3476, 3824, 3968, 4364, 4424, 4496, 4736, 4832, 5053, 5113, 5173, 5233, 5293, 5353, 5473, 5533, 5605, 5737, 5833, 5965, 6049, 6157, 6217, 6313, 6361, 6565, 6757, 6877, 7213, 7345, 7777, 7849, 7897, 7957, 8029, 8125, 8173, 8257, 8413, 8593, 8641, 9001, 9049, 9145, 9289, 9349, 9409, 9493, 9745, 9793, 9841]
x_6347 = [68, 176, 236, 296, 416, 500, 596, 716, 788, 908, 1004, 1280, 1340, 1388, 1460, 1676, 1748, 1916, 2276, 2468, 2552, 2744, 3128, 3884, 3932, 4352, 4604, 4760, 4784, 4856, 5125, 5305, 5353, 5389, 5461, 5701, 5749, 5845, 6109, 6145, 6517, 6697, 7021, 7177, 7225, 7321, 7405, 7441, 7609, 7693, 7765, 7789, 7933, 8509, 8629, 8713, 8797, 9025, 9085, 9121, 9229, 9265, 9457, 9565, 9613, 9757, 9805]
x_6346 = [344, 440, 824, 968, 1136, 1340, 1388, 1568, 1736, 1892, 1976, 2120, 2828, 3020, 3092, 3572, 3680, 4388, 4508, 4604, 4808, 4880, 5012, 5245, 5305, 5389, 5533, 5653, 5701, 5773, 5809, 5989, 6037, 6301, 7273, 7417, 7693, 7741, 7813, 8065, 8245, 8473, 8773, 8821, 9013, 9145, 9457, 9517, 9589, 9637, 9781]
x_6345 = [20, 56, 236, 380, 656, 752, 860, 968, 1256, 1328, 1472, 1520, 1568, 1616, 1880, 1996, 2204, 2588, 2720, 2840, 3380, 3896, 3992, 4400, 4712, 4820, 4988, 5257, 5473, 5617, 5893, 6517, 7201, 7237, 7645, 7741, 7765, 7813, 7921, 8005, 8605, 8701, 9121, 9373, 9445, 9613, 9673]
x_6344 = [152, 524, 716, 884, 908, 1040, 1184, 1280, 1868, 1964, 2300, 2768, 3440, 3956, 4244, 5065, 5161, 6085, 6409, 6697, 6949, 7549, 7585, 8173, 8197, 8965, 9301, 9325, 9505, 9601]
x_6343 = [176, 500, 752, 788, 1100, 1292, 1640, 1664, 2312, 2372, 3080, 3116, 3836, 3872, 4472, 5545, 5785, 6877, 6925, 6973, 7525, 7561, 8293, 8461, 8485, 8689, 9181, 9541]
x_6342 = [344, 428, 536, 632, 728, 872, 932, 1316, 1544, 1592, 2864, 2924, 3164, 3332, 3368, 3452, 3560, 3764, 3860, 3920, 4328, 4412, 4556, 5953, 6109, 7129, 7657, 7861, 7897, 8413, 8533, 8653, 8833, 9253, 9445, 9829]
x_6341 = [116, 140, 1064, 3044, 3260, 5389, 5557, 6265, 6481, 7945, 8317, 8437, 8617, 9049, 9265, 9409, 9637]
x_6340 = [92, 1472, 1700, 3344, 3392, 3464, 3512, 4280, 4484, 4712, 5161, 5581, 6493, 6997, 7873, 8641, 8677]
x_6339 = [0, 85, 110, 668, 3344, 4628, 5149, 7597, 7765, 8173]
x_6338 = [224, 1352, 3236, 3404, 8821]
x_6336 = [464, 3908, 7189]
x_6335 = [3092, 8965]
x_6334 = [848, 3944]
x_6333 = [3032, 4724, 6097]

level_rows = [
    (6393, x_6393), (6392, x_6392), (6390, x_6390), (6389, x_6389), (6388, x_6388),
    (6387, x_6387), (6386, x_6386), (6385, x_6385), (6384, x_6384), (6383, x_6383),
    (6382, x_6382), (6381, x_6381), (6380, x_6380), (6379, x_6379), (6378, x_6378),
    (6377, x_6377), (6376, x_6376), (6375, x_6375), (6374, x_6374), (6373, x_6373),
    (6372, x_6372), (6371, x_6371), (6370, x_6370), (6369, x_6369), (6368, x_6368),
    (6367, x_6367), (6366, x_6366), (6365, x_6365), (6364, x_6364), (6363, x_6363),
    (6362, x_6362), (6361, x_6361), (6360, x_6360), (6359, x_6359), (6358, x_6358),
    (6357, x_6357), (6356, x_6356), (6355, x_6355), (6354, x_6354), (6353, x_6353),
    (6352, x_6352), (6351, x_6351), (6350, x_6350), (6349, x_6349), (6348, x_6348),
    (6347, x_6347), (6346, x_6346), (6345, x_6345), (6344, x_6344), (6343, x_6343),
    (6342, x_6342), (6341, x_6341), (6340, x_6340), (6339, x_6339), (6338, x_6338),
    (6336, x_6336), (6335, x_6335), (6334, x_6334), (6333, x_6333),
]

xs = []
ys = []
for level, row in level_rows:
    xs += row
    ys += [level] * len(row)

plt.figure(figsize=(10, 10), dpi=100)
plt.plot(xs, ys, 'k.', markersize=6.6, label='Samples\n$\\mu$ = 6362.37, $\\sigma$ = 8.08')
plt.xlim(-495, 10355)
plt.ylim(6330, 6396)
plt.title('Run 648, channel070, Pedestal')
plt.xlabel('Sample #')
plt.ylabel('ADC Counts')
plt.grid(True)
plt.legend(loc='upper right')
plt.subplots_adjust(left=0.08, right=0.985, top=0.964, bottom=0.0585)
plt.savefig('out.png', dpi=100)
